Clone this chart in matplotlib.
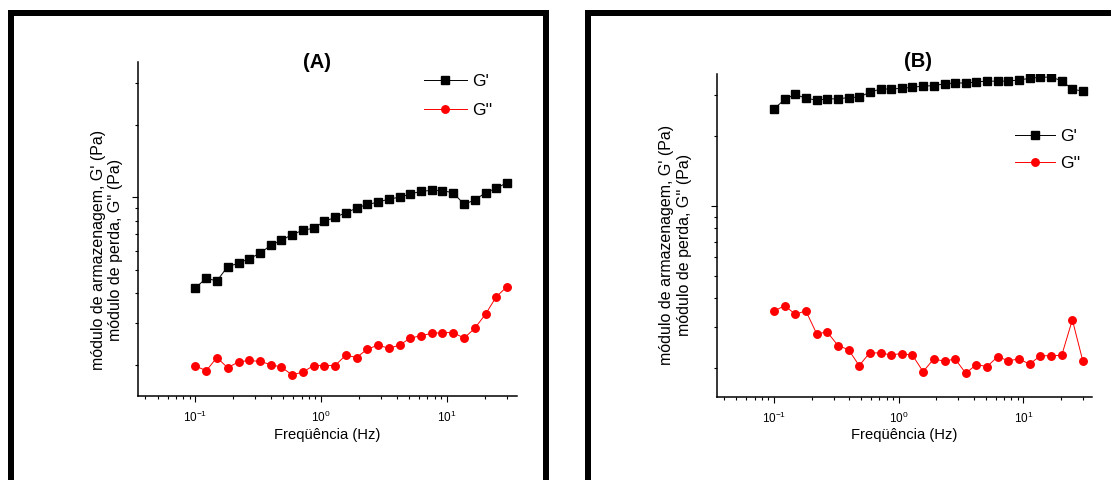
import matplotlib
matplotlib.use('Agg')
import matplotlib.pyplot as plt
from matplotlib.lines import Line2D
from matplotlib.ticker import LogLocator, NullFormatter, LogFormatterSciNotation

plt.rcParams['font.family'] = 'Liberation Sans'
plt.rcParams['mathtext.fontset'] = 'custom'
plt.rcParams['mathtext.rm'] = 'Liberation Sans'
plt.rcParams['mathtext.it'] = 'Liberation Sans:italic'
plt.rcParams['mathtext.bf'] = 'Liberation Sans:bold'

# frequencia (Hz)
freq = [0.1, 0.122, 0.148, 0.18, 0.22, 0.267, 0.326, 0.396, 0.482, 0.587,
        0.715, 0.87, 1.06, 1.29, 1.57, 1.91, 2.33, 2.83, 3.45, 4.2,
        5.11, 6.22, 7.58, 9.22, 11.2, 13.7, 16.6, 20.3, 24.7, 30.0]

# painel A
g1_a = [42.0, 46.0, 44.8, 51.4, 53.1, 55.5, 58.4, 63.1, 66.2, 69.9,
        72.9, 74.3, 79.4, 82.5, 86.3, 90.0, 93.5, 95.3, 98.4, 100.0,
        103.2, 105.9, 106.9, 106.5, 104.5, 93.5, 97.4, 104.5, 109.0, 115.1]
g2_a = [19.8, 18.95, 21.5, 19.5, 20.6, 20.9, 20.7, 20.1, 19.6, 18.2,
        18.7, 19.9, 19.9, 19.9, 22.0, 21.5, 23.3, 24.2, 23.5, 24.2,
        25.9, 26.5, 27.1, 27.3, 27.3, 25.9, 28.4, 32.6, 38.5, 42.4]

# painel B
g1_b = [261.9, 288.4, 303.0, 291.1, 286.3, 289.2, 290.1, 293.0, 295.0, 309.1,
        319.4, 319.4, 321.6, 324.8, 329.0, 330.0, 336.6, 339.0, 339.0, 342.4,
        345.8, 344.8, 345.8, 349.2, 355.1, 358.6, 359.7, 346.8, 318.4, 313.1]
g2_b = [35.2, 37.2, 34.1, 35.3, 28.1, 28.6, 25.0, 24.0, 20.5, 23.3,
        23.2, 22.8, 23.1, 22.7, 19.3, 21.9, 21.4, 21.9, 19.0, 20.7,
        20.3, 22.4, 21.5, 21.9, 20.8, 22.6, 22.6, 22.7, 32.3, 21.4]

W, H = 1111, 480
fig = plt.figure(figsize=(W / 100, H / 100), dpi=100)


def px_axes(l, t, r, b):
    return fig.add_axes([l / W, 1 - b / H, (r - l) / W, (b - t) / H])


def panel(ax, g1, g2, xlim, ylim, leg_xy, hlen, lspace):
    ax.plot(freq, g1, '-s', color='black', lw=0.7, ms=5.2, label="G'")
    ax.plot(freq, g2, '-o', color='red', lw=0.7, ms=5.4, label="G''")
    ax.set_xscale('log')
    ax.set_yscale('log')
    ax.set_xlim(xlim)
    ax.set_ylim(ylim)
    for s in ['top', 'right']:
        ax.spines[s].set_visible(False)
    for s in ['left', 'bottom']:
        ax.spines[s].set_linewidth(1.1)
    ax.xaxis.set_major_locator(LogLocator(base=10))
    ax.xaxis.set_minor_locator(LogLocator(base=10, subs=range(2, 10)))
    ax.xaxis.set_major_formatter(LogFormatterSciNotation())
    ax.xaxis.set_minor_formatter(NullFormatter())
    ax.yaxis.set_major_formatter(NullFormatter())
    ax.yaxis.set_minor_formatter(NullFormatter())
    ax.tick_params(which='major', direction='out', length=4, width=0.8, labelsize=8.5, pad=6)
    ax.tick_params(which='minor', direction='out', length=2.5, width=0.8)
    ax.legend(loc='upper left', bbox_to_anchor=leg_xy, frameon=False, fontsize=12.5,
              handlelength=hlen, handletextpad=0.3, labelspacing=lspace,
              borderpad=0, borderaxespad=0)


ax_a = px_axes(138, 61.5, 516.7, 396)
panel(ax_a, g1_a, g2_a, (0.0349, 35.9), (14.86, 368), (0.755, 0.964), 2.47, 0.82)
ax_b = px_axes(716.7, 74, 1092, 397.3)
panel(ax_b, g1_b, g2_b, (0.0347, 35.5), (14.96, 370.7), (0.795, 0.831), 2.3, 0.68)

ylab = "módulo de armazenagem, G' (Pa)\nmódulo de perda, G'' (Pa)"
for x, y in [(107, 249.5), (675.5, 245)]:
    fig.text(x / W, 1 - y / H, ylab, rotation=90, ha='center', va='center',
             multialignment='center', fontsize=11.5, linespacing=1.2)
for x, y in [(327, 435.3), (904.5, 435.3)]:
    fig.text(x / W, 1 - y / H, 'Freqüência (Hz)', ha='center', va='center', fontsize=10.6)
for x, y, t in [(316.7, 62.7, '(A)'), (917.7, 61.7, '(B)')]:
    fig.text(x / W, 1 - y / H, t, ha='center', va='center', fontsize=14.5, fontweight='bold')

# molduras pretas
lw = 6 * 0.72
fig.add_artist(Line2D([11 / W, 11 / W, 546 / W, 546 / W], [-0.1, 1 - 13 / H, 1 - 13 / H, -0.1],
                      transform=fig.transFigure, color='black', lw=lw, solid_joinstyle='miter'))
fig.add_artist(Line2D([588 / W, 588 / W, 1.1], [-0.1, 1 - 13 / H, 1 - 13 / H],
                      transform=fig.transFigure, color='black', lw=lw, solid_joinstyle='miter'))

fig.savefig('out.png', dpi=100)
